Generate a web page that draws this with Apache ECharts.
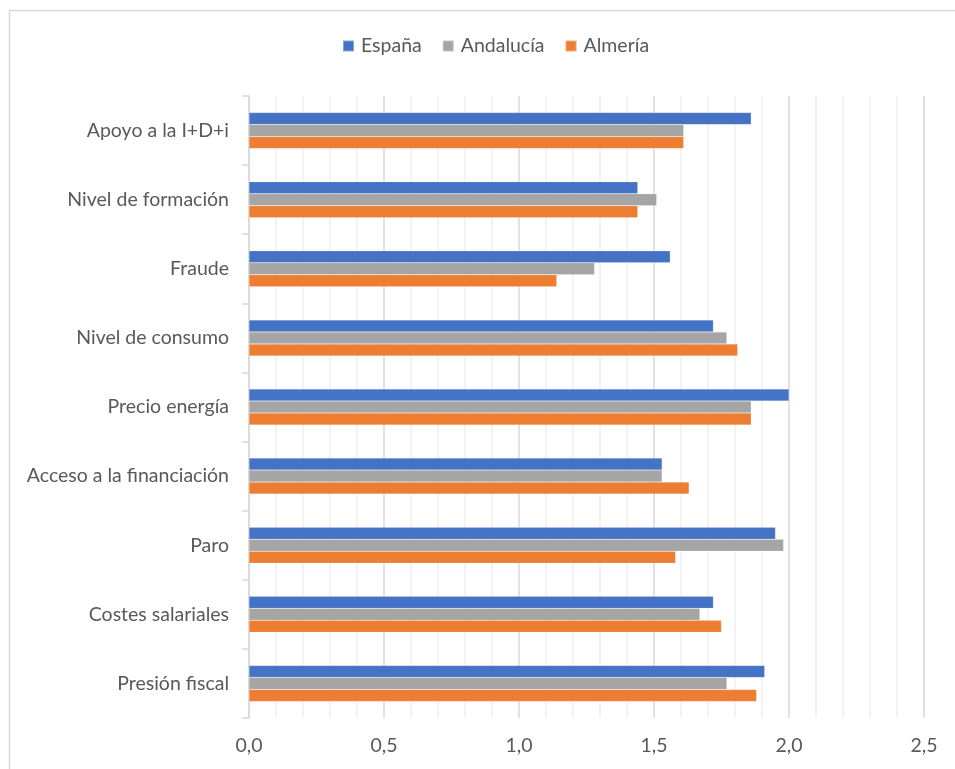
<!DOCTYPE html>
<html>
<head>
<meta charset="utf-8">
<script src="https://cdn.jsdelivr.net/npm/echarts@6/dist/echarts.min.js"></script>
<style>
html,body{margin:0;padding:0;background:#fff;}
#chart{width:955px;height:769px;}
</style>
</head>
<body>
<div id="chart"></div>
<script>
const categories = ['Presión fiscal','Costes salariales','Paro','Acceso a la financiación','Precio energía','Nivel de consumo','Fraude','Nivel de formación','Apoyo a la I+D+i'];
const espana    = [1.91, 1.72, 1.95, 1.53, 2.00, 1.72, 1.56, 1.44, 1.86];
const andalucia = [1.77, 1.67, 1.98, 1.53, 1.86, 1.77, 1.28, 1.51, 1.61];
const almeria   = [1.88, 1.75, 1.58, 1.63, 1.86, 1.81, 1.14, 1.44, 1.61];
const xTicks = {min: 0, max: 2.5, interval: 0.5};

const FONT = 'Lato';
const FS = 19.5;
const TXT = '#595959';
const chart = echarts.init(document.getElementById('chart'), null, {renderer: 'canvas'});
function s(name, data, color){
  return {name, type:'bar', data, barWidth: 12, barGap: '0%',
    itemStyle:{color, borderColor:'rgba(255,255,255,0.35)', borderWidth:0.5}};
}
chart.setOption({
  animation:false,
  textStyle:{fontFamily:FONT},
  graphic:[{type:'rect', left:7, top:8, shape:{width:960, height:780}, style:{fill:'none', stroke:'#d9d9d9', lineWidth:1.5}, silent:true}],
  legend:{top:31, left:337, itemWidth:11, itemHeight:11, itemGap:20, icon:'rect',
    textStyle:{color:TXT, fontSize:FS, fontFamily:FONT, padding:[0,0,0,2]}, data:['España','Andalucía','Almería']},
  grid:{left:249, right:31, top:96, bottom:51, containLabel:false},
  xAxis:{type:'value', min:xTicks.min, max:xTicks.max, interval:xTicks.interval,
    axisLine:{show:false}, axisTick:{show:false},
    axisLabel:{color:TXT, fontSize:FS, margin:18, fontFamily:FONT, formatter:v=>v.toFixed(1).replace('.',',')},
    splitLine:{show:true, lineStyle:{color:'#d9d9d9', width:1.5}},
    minorTick:{show:false, splitNumber:5},
    minorSplitLine:{show:true, lineStyle:{color:'#f0f0f0', width:1.5}}
  },
  yAxis:{type:'category', data:categories,
    axisLine:{show:true, lineStyle:{color:'#d9d9d9', width:1.5}},
    axisTick:{show:true, length:7, lineStyle:{color:'#d9d9d9', width:1.5}},
    axisLabel:{color:TXT, fontSize:FS, margin:20, fontFamily:FONT}
  },
  series:[s('España', espana, '#4472c4'), s('Andalucía', andalucia, '#a5a5a5'), s('Almería', almeria, '#ed7d31')]
});
</script>
</body>
</html>
